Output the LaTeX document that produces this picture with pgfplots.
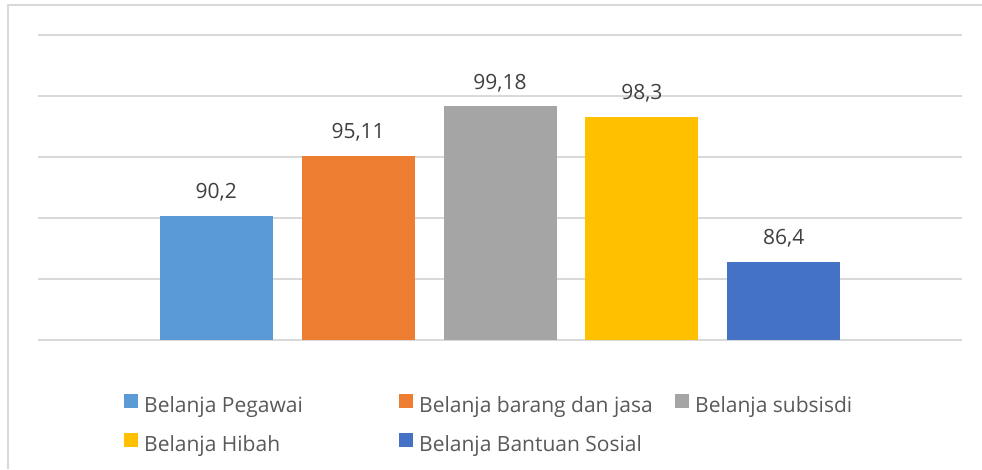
\documentclass[border=0pt]{standalone}
\usepackage{fontspec}
\setmainfont{Open Sans}
\usepackage{pgfplots}
\pgfplotsset{compat=1.18}
\definecolor{c1}{HTML}{5B9BD5}
\definecolor{c2}{HTML}{ED7D31}
\definecolor{c3}{HTML}{A5A5A5}
\definecolor{c4}{HTML}{FFC000}
\definecolor{c5}{HTML}{4472C4}
\definecolor{gridc}{HTML}{D9D9D9}
\definecolor{lbl}{HTML}{404040}
\definecolor{leg}{HTML}{595959}
\begin{document}
\fontsize{21}{24}\selectfont
\begin{tikzpicture}[x=1pt,y=1pt]
\useasboundingbox (0,0) rectangle (982,469);
\draw[gridc, line width=1.5pt] (8,0) -- (8,464) -- (982,464);
\begin{axis}[
 at={(38pt,129pt)}, anchor=south west,
 scale only axis, width=924pt, height=305pt,
 xmin=-1.257, xmax=5.257, ymin=80, ymax=105,
 ytick={80,85,...,105}, yticklabels={}, xtick=\empty,
 ymajorgrids, major grid style={gridc, line width=1.5pt},
 axis line style={draw=none}, major tick length=0pt,
 ybar, bar width=113pt, bar shift=0pt,
 /pgf/number format/assume math mode=true,
 /pgf/number format/use comma,
 nodes near coords,
 every node near coord/.append style={font=\fontsize{21}{24}\selectfont, text=lbl, anchor=base, yshift=17pt, inner sep=0pt},
 legend style={at={(0.0931,-0.2803)}, anchor=west, draw=none, fill=none, inner sep=0pt,
   font=\fontsize{21}{24}\selectfont, text=leg, row sep=15pt,
   nodes={inner sep=0pt, text height=15pt, text depth=5pt},
   /tikz/every odd column/.style={column sep=6pt}},
 legend cell align=left,
 legend image code/.code={\fill[#1, draw=none] (0pt,0pt) rectangle (14pt,14pt);},
 legend columns=3,
]
\addplot[fill=c1, draw=none] coordinates {(0,90.2)};
\addlegendentry{\makebox[255pt][l]{Belanja Pegawai}}
\addplot[fill=c2, draw=none] coordinates {(1,95.11)};
\addlegendentry{\makebox[256pt][l]{Belanja barang dan jasa}}
\addplot[fill=c3, draw=none] coordinates {(2,99.18)};
\addlegendentry{Belanja subsisdi}
\addplot[fill=c4, draw=none] coordinates {(3,98.3)};
\addlegendentry{\makebox[255pt][l]{Belanja Hibah}}
\addplot[fill=c5, draw=none] coordinates {(4,86.4)};
\addlegendentry{\makebox[256pt][l]{Belanja Bantuan Sosial}}
\end{axis}
\end{tikzpicture}
\end{document}
